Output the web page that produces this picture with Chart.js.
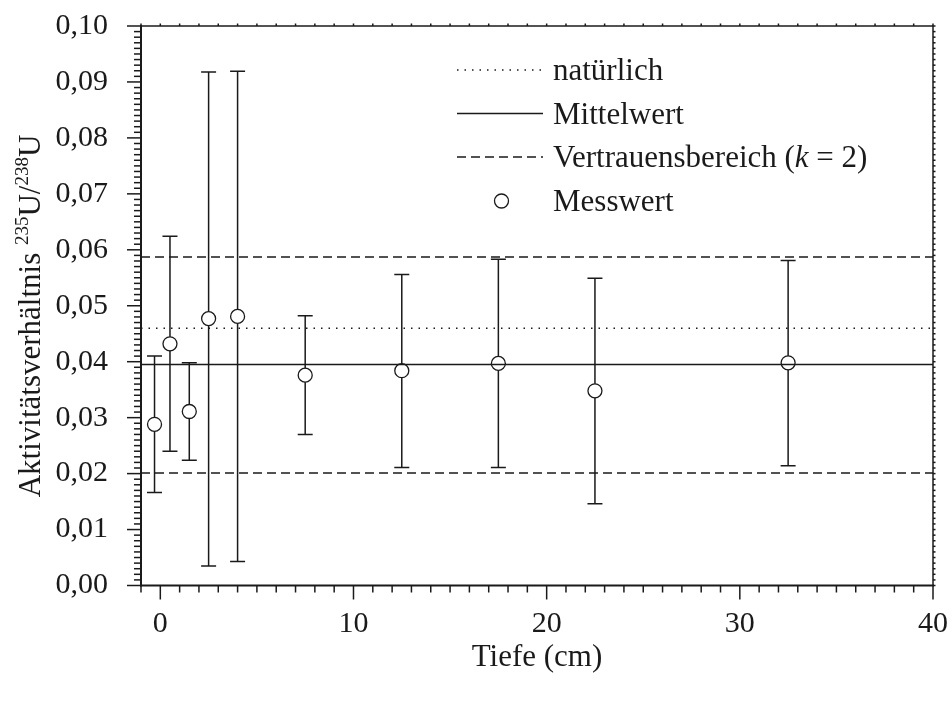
<!DOCTYPE html>
<html>
<head>
<meta charset="utf-8">
<script src="https://cdn.jsdelivr.net/npm/chart.js@4/dist/chart.umd.min.js"></script>
<style>
  html, body { margin: 0; padding: 0; background: #fff; }
</style>
</head>
<body>
<canvas id="myChart" width="952" height="702"></canvas>
<script>
// Messwerte: Tiefe (cm), Aktivitätsverhältnis und Fehlerbalken
const depth = [-0.3, 0.5, 1.5, 2.5, 4.0, 7.5, 12.5, 17.5, 22.5, 32.5];
const ratio = [0.0288, 0.0432, 0.0311, 0.0477, 0.0481, 0.0376, 0.0384, 0.0397, 0.0348, 0.0398];
const upper = [0.0410, 0.0624, 0.0398, 0.0918, 0.0919, 0.0482, 0.0556, 0.0583, 0.0549, 0.0581];
const lower = [0.0166, 0.0240, 0.0224, 0.0035, 0.0043, 0.0270, 0.0211, 0.0211, 0.0146, 0.0214];

// Referenzlinien
const natural = 0.0460;
const mean = 0.0395;
const confHigh = 0.0587;
const confLow = 0.0201;

const xTicks = [0, 10, 20, 30, 40];
const yTicks = [0, 0.01, 0.02, 0.03, 0.04, 0.05, 0.06, 0.07, 0.08, 0.09, 0.10];
const xRange = [-1, 40];
const yRange = [0, 0.10];

const serif = "'Liberation Serif', 'Times New Roman', serif";
const ink = '#1a1a1a';
const dotted = [1.5, 6];
const dashed = [9, 5];

function hline(v) {
  return [{ x: xRange[0], y: v }, { x: xRange[1], y: v }];
}

const errorBars = {
  id: 'errorBars',
  beforeDatasetDraw(chart, args) {
    if (args.index !== 4) return;
    const { ctx, scales: { x, y } } = chart;
    ctx.save();
    ctx.strokeStyle = ink;
    ctx.lineWidth = 1.5;
    depth.forEach((d, i) => {
      const px = x.getPixelForValue(d);
      const pHi = y.getPixelForValue(upper[i]);
      const pLo = y.getPixelForValue(lower[i]);
      ctx.beginPath();
      ctx.moveTo(px, pHi); ctx.lineTo(px, pLo);
      ctx.moveTo(px - 7.5, pHi); ctx.lineTo(px + 7.5, pHi);
      ctx.moveTo(px - 7.5, pLo); ctx.lineTo(px + 7.5, pLo);
      ctx.stroke();
    });
    ctx.restore();
  }
};

const frame = {
  id: 'frame',
  afterDraw(chart) {
    const { ctx, chartArea: { left, right, top, bottom }, scales: { x, y } } = chart;
    const seg = (x1, y1, x2, y2) => { ctx.beginPath(); ctx.moveTo(x1, y1); ctx.lineTo(x2, y2); ctx.stroke(); };
    ctx.save();
    ctx.strokeStyle = ink;

    // Teilstriche
    ctx.lineWidth = 1.5;
    for (let v = xRange[0]; v <= xRange[1]; v++) {
      const px = x.getPixelForValue(v);
      seg(px, bottom, px, bottom + (xTicks.includes(v) ? 14 : 7));
      seg(px, top, px, top - 2.5);
    }
    for (let i = 0; i <= 100; i++) {
      const py = y.getPixelForValue(i / 1000);
      seg(left - (i % 10 === 0 ? 14 : 7), py, left, py);
      seg(right, py, right + 2.5, py);
    }

    // Rahmen
    ctx.lineWidth = 2;
    seg(left, top - 1, left, bottom + 1);
    seg(left - 1, bottom, right + 1, bottom);
    ctx.lineWidth = 1.5;
    seg(left, top, right, top);
    seg(right, top, right, bottom);

    // Achsentitel
    ctx.fillStyle = ink;
    ctx.font = '31px ' + serif;
    ctx.textAlign = 'center';
    ctx.textBaseline = 'middle';
    ctx.fillText('Tiefe (cm)', (left + right) / 2, 658);

    const parts = [
      ['Aktivitätsverhältnis ', 31, 0],
      ['235', 19, -12],
      ['U/', 31, 0],
      ['238', 19, -12],
      ['U', 31, 0]
    ];
    ctx.textAlign = 'left';
    ctx.textBaseline = 'alphabetic';
    let total = 0;
    parts.forEach(p => { ctx.font = p[1] + 'px ' + serif; total += ctx.measureText(p[0]).width; });
    ctx.translate(40, 316);
    ctx.rotate(-Math.PI / 2);
    let cx = -total / 2;
    parts.forEach(p => {
      ctx.font = p[1] + 'px ' + serif;
      ctx.fillText(p[0], cx, p[2]);
      cx += ctx.measureText(p[0]).width;
    });
    ctx.setTransform(1, 0, 0, 1, 0, 0);

    // Legende
    const lx0 = 457, lx1 = 543, tx = 553;
    const rows = [70, 113.5, 157, 201];
    ctx.lineWidth = 1.5;
    ctx.setLineDash(dotted);
    seg(lx0, rows[0], lx1, rows[0]);
    ctx.setLineDash([]);
    seg(lx0, rows[1], lx1, rows[1]);
    ctx.setLineDash(dashed);
    seg(lx0, rows[2], lx1, rows[2]);
    ctx.setLineDash([]);
    ctx.beginPath();
    ctx.arc(501.5, rows[3], 7, 0, Math.PI * 2);
    ctx.fillStyle = '#fff';
    ctx.fill();
    ctx.lineWidth = 1.3;
    ctx.stroke();

    ctx.fillStyle = ink;
    ctx.font = '31px ' + serif;
    ctx.fillText('natürlich', tx, rows[0] + 10);
    ctx.fillText('Mittelwert', tx, rows[1] + 10);
    let vx = tx;
    const v1 = 'Vertrauensbereich (';
    ctx.fillText(v1, vx, rows[2] + 10);
    vx += ctx.measureText(v1).width;
    ctx.font = 'italic 31px ' + serif;
    ctx.fillText('k', vx, rows[2] + 10);
    vx += ctx.measureText('k').width;
    ctx.font = '31px ' + serif;
    ctx.fillText(' = 2)', vx, rows[2] + 10);
    ctx.fillText('Messwert', tx, rows[3] + 10);
    ctx.restore();
  }
};

const refLine = (data, dash, label) => ({
  label: label,
  data: data,
  showLine: true,
  borderColor: ink,
  borderWidth: 1.5,
  borderDash: dash,
  pointRadius: 0,
  pointHoverRadius: 0
});

const config = {
  type: 'scatter',
  data: {
    datasets: [
      refLine(hline(natural), dotted, 'natürlich'),
      refLine(hline(mean), [], 'Mittelwert'),
      refLine(hline(confHigh), dashed, 'Vertrauensbereich'),
      refLine(hline(confLow), dashed, 'Vertrauensbereich'),
      {
        label: 'Messwert',
        data: depth.map((d, i) => ({ x: d, y: ratio[i] })),
        pointStyle: 'circle',
        pointRadius: 7,
        pointBackgroundColor: '#fff',
        pointBorderColor: ink,
        pointBorderWidth: 1.3
      }
    ]
  },
  options: {
    responsive: false,
    animation: false,
    devicePixelRatio: 1,
    layout: { padding: { top: 26, right: 19, left: 0, bottom: 0 } },
    scales: {
      x: {
        type: 'linear',
        min: xRange[0],
        max: xRange[1],
        afterBuildTicks: (scale) => { scale.ticks = xTicks.map(v => ({ value: v })); },
        afterFit: (scale) => {
          scale.height = 702 - 585.5;
          scale.paddingLeft = 0;
          scale.paddingRight = 0;
        },
        grid: { display: false },
        border: { display: false },
        ticks: {
          font: { family: serif, size: 30 },
          color: ink,
          padding: 13,
          maxRotation: 0
        }
      },
      y: {
        type: 'linear',
        min: yRange[0],
        max: yRange[1],
        afterBuildTicks: (scale) => { scale.ticks = yTicks.map(v => ({ value: v })); },
        afterFit: (scale) => {
          scale.width = 141;
          scale.paddingTop = 0;
          scale.paddingBottom = 0;
        },
        grid: { display: false },
        border: { display: false },
        ticks: {
          font: { family: serif, size: 30 },
          color: ink,
          padding: 25,
          callback: (v) => v.toFixed(2).replace('.', ',')
        }
      }
    },
    plugins: {
      legend: { display: false },
      tooltip: { enabled: false }
    }
  },
  plugins: [errorBars, frame]
};

new Chart(document.getElementById('myChart').getContext('2d'), config);
</script>
</body>
</html>
